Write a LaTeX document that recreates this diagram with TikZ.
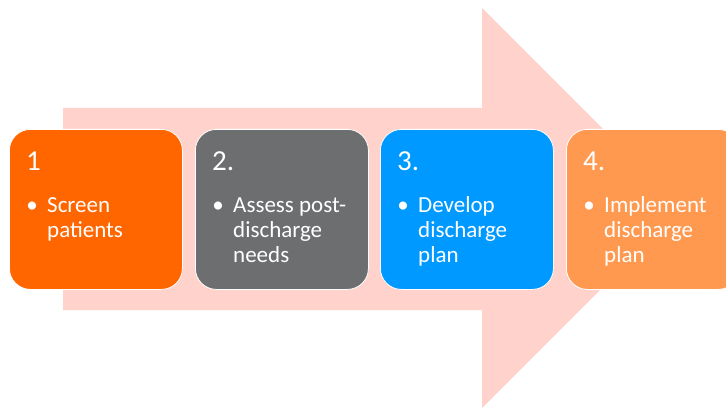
\documentclass[tikz,border=0pt]{standalone}
\usepackage{fontspec}
\setmainfont{Carlito}
\definecolor{arrowpink}{HTML}{FFD3CC}
\definecolor{cOrange}{HTML}{FF6600}
\definecolor{cGray}{HTML}{6D6E70}
\definecolor{cBlue}{HTML}{0099FF}
\definecolor{cLight}{HTML}{FF9950}
\tikzset{
  stepbox/.style={draw=white, line width=0.8pt, rounded corners=21pt, minimum width=173pt, minimum height=160pt, anchor=north west, inner sep=0pt},
  numtxt/.style={text=white, font=\fontsize{29}{32}\selectfont, anchor=base west, inner sep=0pt},
  linetxt/.style={text=white, font=\fontsize{23}{25}\selectfont, anchor=base west, inner sep=0pt},
  bul/.style={text=white, font=\fontsize{23}{25}\selectfont, anchor=base, inner sep=0pt}
}
\begin{document}
\begin{tikzpicture}[x=1pt,y=-1pt]
\useasboundingbox (0,0) rectangle (726,409);
\clip (0,0) rectangle (726,409);
% big arrow
\fill[arrowpink] (63,108) -- (482,108) -- (482,8) -- (682,208) -- (482,408) -- (482,310) -- (63,310) -- cycle;
% boxes
\node[stepbox, fill=cOrange] (s1) at (9,129) {};
\node[stepbox, fill=cGray] (s2) at (195,129) {};
\node[stepbox, fill=cBlue] (s3) at (380,129) {};
\node[stepbox, fill=cLight] (s4) at (566,129) {};
% numbers and bullets
\foreach \n/\t in {1/1, 2/2., 3/3., 4/4.}{
  \node[numtxt] (n\n) at ([xshift=17pt,yshift=-42pt]s\n.north west) {\t};
  \node[bul] (p\n) at ([xshift=23pt,yshift=-83pt]s\n.north west) {•};
}
% lines
\node[linetxt] (l1a) at ([xshift=38pt,yshift=-83pt]s1.north west) {Screen};
\node[linetxt] (l1b) at ([xshift=38pt,yshift=-108pt]s1.north west) {patients};
\node[linetxt] (l2a) at ([xshift=38pt,yshift=-83pt]s2.north west) {Assess post-};
\node[linetxt] (l2b) at ([xshift=38pt,yshift=-108pt]s2.north west) {discharge};
\node[linetxt] (l2c) at ([xshift=38pt,yshift=-133pt]s2.north west) {needs};
\node[linetxt] (l3a) at ([xshift=38pt,yshift=-83pt]s3.north west) {Develop};
\node[linetxt] (l3b) at ([xshift=38pt,yshift=-108pt]s3.north west) {discharge};
\node[linetxt] (l3c) at ([xshift=38pt,yshift=-133pt]s3.north west) {plan};
\node[linetxt] (l4a) at ([xshift=38pt,yshift=-83pt]s4.north west) {Implement};
\node[linetxt] (l4b) at ([xshift=38pt,yshift=-108pt]s4.north west) {discharge};
\node[linetxt] (l4c) at ([xshift=38pt,yshift=-133pt]s4.north west) {plan};
\end{tikzpicture}
\end{document}
